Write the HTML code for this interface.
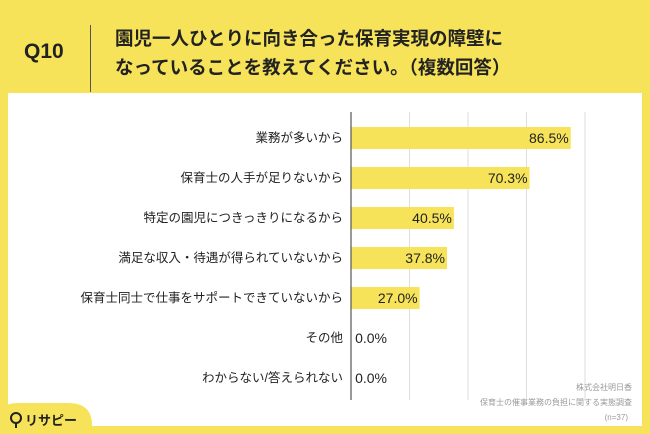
<!DOCTYPE html>
<html><head><meta charset="utf-8"><style>
body{margin:0;width:650px;height:434px;overflow:hidden;background:#f6e35a;font-family:"Liberation Sans","Noto Sans CJK JP",sans-serif;position:relative}
.abs{position:absolute}
</style></head><body>
<div class="abs" style="left:24px;top:40px;font-size:21px;font-weight:bold;color:#222">Q10</div>
<div class="abs" style="left:90px;top:25px;width:1px;height:67px;background:#555"></div>
<div class="abs" style="left:115px;top:24px;font-size:18.5px;font-weight:bold;line-height:29px;color:#222">園児一人ひとりに向き合った保育実現の障壁に<br>なっていることを教えてください。（複数回答）</div>
<div class="abs" style="left:8px;top:93px;width:634px;height:333px;background:#fff"></div>
<svg class="abs" style="left:0;top:0" width="650" height="434">
<g id="g"></g>
<path d="M0,434 L0,416 Q0,403 18,403 L68,403 Q92,403 92,425 L92,434 Z" fill="#f6e35a"/>
<circle cx="16" cy="418" r="5" fill="none" stroke="#222" stroke-width="2"/>
<line x1="16" y1="423" x2="16" y2="428" stroke="#222" stroke-width="2"/>
<text x="25" y="425" font-size="13" font-weight="bold" fill="#222">リサピー</text>
<text x="632" y="390" font-size="8" fill="#999" text-anchor="end">株式会社明日香</text>
<text x="632" y="405" font-size="8" fill="#999" text-anchor="end">保育士の催事業務の負担に関する実態調査</text>
<text x="628" y="420" font-size="8" fill="#999" text-anchor="end">(n=37)</text>
</svg>
<script>
const categories=["業務が多いから","保育士の人手が足りないから","特定の園児につきっきりになるから","満足な収入・待遇が得られていないから","保育士同士で仕事をサポートできていないから","その他","わからない/答えられない"];
const values=[86.5,70.3,40.5,37.8,27.0,0.0,0.0];
const x0=351,scale=254/100,yTop=127,step=40,bh=22;
const xs=v=>x0+v*scale;
const g=document.getElementById('g');
const NS='http://www.w3.org/2000/svg';
function mk(t,a){const e=document.createElementNS(NS,t);for(const k in a)e.setAttribute(k,a[k]);g.appendChild(e);return e;}
for(let i=1;i<=4;i++){const l=mk('line',{x1:x0+i*58.5,x2:x0+i*58.5,y1:112,y2:400,stroke:'#ddd','stroke-width':1});

}
categories.forEach((c,i)=>{
const cy=yTop+i*step+bh/2;
const r=mk('rect',{x:x0,y:cy-bh/2,width:xs(values[i])-x0,height:bh,fill:'#f6e35a'});


const t=mk('text',{x:343,y:cy+4,'font-size':12.5,'text-anchor':'end',fill:'#222'});t.textContent=c;


const vx=Math.max(xs(values[i])-2,x0+36);
const v=mk('text',{x:vx,y:cy+5,'font-size':14,'text-anchor':'end',fill:'#222'});v.textContent=values[i].toFixed(1)+'%';


});
const ax=mk('line',{x1:x0,x2:x0,y1:112,y2:400,stroke:'#555','stroke-width':1.2});


</script>
</body></html>
